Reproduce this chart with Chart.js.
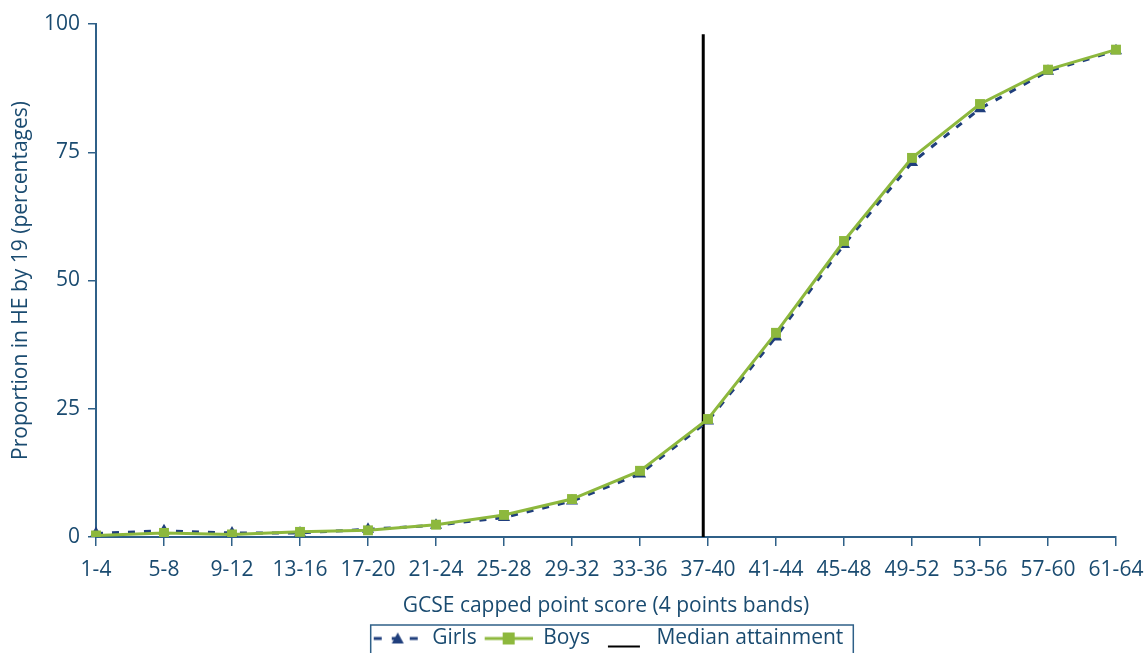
<!DOCTYPE html>
<html>
<head>
<meta charset="utf-8">
<script src="https://cdn.jsdelivr.net/npm/chart.js@4"></script>
<style>
  html, body { margin: 0; padding: 0; background: #fff; }
  #wrap { width: 1146px; height: 653px; }
</style>
</head>
<body>
<div id="wrap"><canvas id="heChart" width="1146" height="653"></canvas></div>
<script>
// ===== DATOS =====
const bands = ['1-4', '5-8', '9-12', '13-16', '17-20', '21-24', '25-28', '29-32',
    '33-36', '37-40', '41-44', '45-48', '49-52', '53-56', '57-60', '61-64'];
const girls = [0.7, 1.2, 0.8, 0.8, 1.5, 2.3, 3.8, 7.0, 12.3, 22.6, 39.0, 57.0, 73.0, 83.5, 90.8, 94.8];
const boys = [0.3, 0.8, 0.5, 1.0, 1.3, 2.4, 4.3, 7.4, 12.9, 23.0, 39.8, 57.7, 73.9, 84.4, 91.1, 95.0];
const medianBand = 8.93;   // position on band index scale (between 33-36 and 37-40)
const medianTop = 98;
const yTicks = [0, 25, 50, 75, 100];

const textColor = '#1a4b70';
const axisColor = '#2f6088';
const navy = '#1f3e7c';
const green = '#8db83d';
const FONT = "'Open Sans', sans-serif";

// ===== SIMBOLOS LEYENDA =====
// icon canvas has 5px empty margin on the left (gap between legend items)
function legendIcon(kind) {
    const c = document.createElement('canvas');
    c.width = 53; c.height = 22;
    const g = c.getContext('2d');
    const my = 11;
    g.translate(5, 0);
    if (kind === 'girls') {
        g.strokeStyle = navy; g.lineWidth = 3;
        g.setLineDash([8, 10]);
        g.beginPath(); g.moveTo(0, my); g.lineTo(48, my); g.stroke();
        g.setLineDash([]);
        g.fillStyle = navy;
        g.beginPath(); g.moveTo(24, my - 6); g.lineTo(30, my + 5); g.lineTo(18, my + 5); g.closePath(); g.fill();
    } else if (kind === 'boys') {
        g.strokeStyle = green; g.lineWidth = 3;
        g.beginPath(); g.moveTo(0, my); g.lineTo(48, my); g.stroke();
        g.fillStyle = green;
        g.fillRect(18, my - 6, 12, 12);
    } else {
        g.strokeStyle = '#000'; g.lineWidth = 2;
        g.beginPath(); g.moveTo(10, my + 8); g.lineTo(42, my + 8); g.stroke();
    }
    return c;
}

const legendFrame = {
    id: 'legendFrame',
    afterLayout(chart) {
        // push the legend row a little lower, as in the original
        if (chart.legend) { chart.legend.top += 6; chart.legend.bottom += 6; }
    },
    afterDraw(chart) {
        const boxes = chart.legend && chart.legend.legendHitBoxes;
        if (!boxes || !boxes.length) return;
        const ctx = chart.ctx;
        const l = Math.min(...boxes.map(b => b.left)) + 2;
        const r = Math.max(...boxes.map(b => b.left + b.width)) + 10;
        const t = Math.min(...boxes.map(b => b.top)) - 3;
        ctx.save();
        ctx.strokeStyle = axisColor;
        ctx.lineWidth = 1.5;
        ctx.strokeRect(l, t, r - l, chart.height - t + 5);
        ctx.restore();
    }
};

// ===== GRAFICO =====
new Chart(document.getElementById('heChart'), {
    type: 'line',
    data: {
        labels: bands,
        datasets: [
            {
                label: 'Boys',
                data: boys,
                order: 0,
                borderColor: green,
                backgroundColor: green,
                borderWidth: 3,
                pointStyle: 'rect',
                pointRadius: 7,
                pointBorderWidth: 0,
                tension: 0
            },
            {
                label: 'Girls',
                data: girls,
                order: 1,
                borderColor: navy,
                backgroundColor: navy,
                borderWidth: 3,
                borderDash: [7, 9],
                pointStyle: 'triangle',
                pointRadius: 7,
                pointBorderWidth: 0,
                tension: 0
            },
            {
                label: 'Median attainment',
                xAxisID: 'xm',
                data: [{ x: medianBand, y: 0 }, { x: medianBand, y: medianTop }],
                order: 2,
                borderColor: '#000',
                borderWidth: 3,
                pointRadius: 0
            }
        ]
    },
    options: {
        responsive: false,
        animation: false,
        layout: { padding: { top: 24, right: 30, left: 0, bottom: 0 } },
        plugins: {
            tooltip: { enabled: false },
            legend: {
                position: 'bottom',
                fullSize: false,
                labels: {
                    usePointStyle: true,
                    pointStyleWidth: 53,
                    padding: 3,
                    color: textColor,
                    font: { family: FONT, size: 21 },
                    generateLabels: () => [
                        { text: 'Girls', pointStyle: legendIcon('girls'), fontColor: textColor, lineWidth: 0, strokeStyle: 'transparent', fillStyle: 'transparent', datasetIndex: 1 },
                        { text: 'Boys', pointStyle: legendIcon('boys'), fontColor: textColor, lineWidth: 0, strokeStyle: 'transparent', fillStyle: 'transparent', datasetIndex: 0 },
                        { text: 'Median attainment', pointStyle: legendIcon('median'), fontColor: textColor, lineWidth: 0, strokeStyle: 'transparent', fillStyle: 'transparent', datasetIndex: 2 }
                    ]
                }
            }
        },
        scales: {
            x: {
                type: 'category',
                offset: false,
                afterFit: s => { s.height = 82; s.paddingLeft = 0; s.paddingRight = 0; },
                border: { color: axisColor, width: 2 },
                grid: { drawOnChartArea: false, tickLength: 9, color: axisColor, lineWidth: 1.5 },
                ticks: { color: textColor, font: { family: FONT, size: 21 }, autoSkip: false, maxRotation: 0, padding: 11 },
                title: { display: true, text: 'GCSE capped point score (4 points bands)', color: textColor, font: { family: FONT, size: 21 }, padding: { top: 4, bottom: 0 } }
            },
            xm: {
                type: 'linear',
                display: false,
                min: 0,
                max: bands.length - 1
            },
            y: {
                min: 0,
                max: 100,
                afterBuildTicks: s => { s.ticks = yTicks.map(v => ({ value: v })); },
                afterFit: s => { s.width = 96; },
                border: { color: axisColor, width: 2 },
                grid: { drawOnChartArea: false, tickLength: 8, color: axisColor, lineWidth: 1.5 },
                ticks: { color: textColor, font: { family: FONT, size: 21 }, padding: 8 },
                title: { display: true, text: 'Proportion in HE by 19 (percentages)', color: textColor, font: { family: FONT, size: 21 }, padding: { top: 8, bottom: 4 } }
            }
        }
    },
    plugins: [legendFrame]
});
</script>
</body>
</html>
